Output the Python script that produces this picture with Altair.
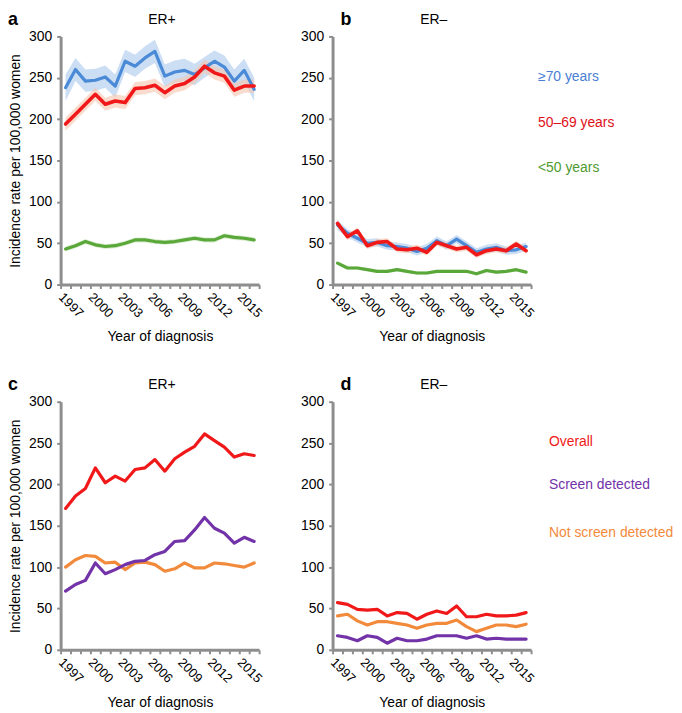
import altair as alt
import pandas as pd

YEARS = list(range(1997, 2017))
YEAR_LABELS = [1997, 2000, 2003, 2006, 2009, 2012, 2015]
Y_TICKS = [0, 50, 100, 150, 200, 250, 300]

# Panel a: ER+, by age
A_GE70 = [238, 260, 246, 247, 251, 240, 270, 264, 274, 282, 252, 257, 259, 254, 262, 270, 263, 246, 259, 236]
A_GE70_LO = [222, 246, 233, 234, 238, 226, 257, 251, 261, 268, 239, 244, 246, 241, 250, 258, 250, 232, 245, 222]
A_GE70_HI = [254, 274, 260, 261, 265, 254, 284, 278, 288, 296, 266, 271, 273, 267, 275, 283, 277, 260, 273, 250]
A_5069 = [194, 206, 218, 230, 218, 222, 220, 237, 238, 241, 232, 240, 243, 251, 264, 256, 252, 235, 240, 240]
A_5069_LO = [186, 198, 210, 222, 210, 214, 212, 229, 230, 233, 224, 232, 235, 243, 256, 248, 244, 227, 232, 232]
A_5069_HI = [202, 214, 226, 238, 226, 230, 228, 245, 246, 249, 240, 248, 251, 259, 272, 264, 260, 243, 248, 248]
A_LT50 = [43, 47, 52, 48, 46, 47, 50, 54, 54, 52, 51, 52, 54, 56, 54, 54, 59, 57, 56, 54]
A_LT50_LO = [40, 44, 49, 45, 43, 44, 47, 51, 51, 49, 48, 49, 51, 53, 51, 51, 56, 54, 53, 51]
A_LT50_HI = [46, 50, 55, 51, 49, 50, 53, 57, 57, 55, 54, 55, 57, 59, 57, 57, 62, 60, 59, 57]

# Panel b: ER-, by age
B_GE70 = [72, 62, 56, 50, 51, 47, 46, 44, 40, 44, 53, 47, 55, 47, 39, 43, 45, 41, 42, 46]
B_GE70_LO = [66, 57, 51, 45, 46, 42, 41, 39, 35, 39, 48, 42, 50, 42, 34, 38, 40, 36, 37, 41]
B_GE70_HI = [78, 67, 61, 55, 56, 52, 51, 49, 45, 49, 58, 52, 60, 52, 44, 48, 50, 46, 47, 51]
B_5069 = [74, 58, 65, 47, 51, 52, 43, 42, 44, 39, 51, 47, 43, 45, 36, 41, 43, 41, 49, 41]
B_5069_LO = [70, 54, 61, 43, 47, 48, 39, 38, 40, 35, 47, 43, 39, 41, 32, 37, 39, 37, 45, 37]
B_5069_HI = [78, 62, 69, 51, 55, 56, 47, 46, 48, 43, 55, 51, 47, 49, 40, 45, 47, 45, 53, 45]
B_LT50 = [26, 20, 20, 18, 16, 16, 18, 16, 14, 14, 16, 16, 16, 16, 13, 17, 15, 16, 18, 15]
B_LT50_LO = [24, 18, 18, 16, 14, 14, 16, 14, 12, 12, 14, 14, 14, 14, 11, 15, 13, 14, 16, 13]
B_LT50_HI = [28, 22, 22, 20, 18, 18, 20, 18, 16, 16, 18, 18, 18, 18, 15, 19, 17, 18, 20, 17]

# Panel c: ER+, by detection mode
C_OVERALL = [171, 186, 195, 220, 202, 210, 204, 218, 220, 230, 216, 231, 239, 246, 261, 253, 245, 233, 237, 235]
C_SCREEN = [71, 79, 84, 105, 92, 97, 103, 107, 108, 115, 119, 131, 132, 145, 160, 147, 141, 129, 136, 131]
C_NOTSCREEN = [100, 109, 114, 113, 105, 106, 97, 105, 106, 103, 95, 98, 105, 99, 99, 105, 104, 102, 100, 105]

# Panel d: ER-, by detection mode
D_OVERALL = [57, 55, 49, 48, 49, 41, 45, 44, 37, 43, 47, 44, 53, 40, 40, 43, 41, 41, 42, 45]
D_SCREEN = [17, 15, 11, 17, 15, 8, 14, 11, 11, 13, 17, 17, 17, 14, 17, 13, 14, 13, 13, 13]
D_NOTSCREEN = [41, 43, 35, 30, 34, 34, 32, 30, 26, 30, 32, 32, 36, 28, 22, 26, 30, 30, 28, 31]

AGE_LABELS = ["≥70 years", "50–69 years", "<50 years"]
MODE_LABELS = ["Overall", "Screen detected", "Not screen detected"]

BLUE, RED, GREEN = "#4a8ad6", "#f01818", "#5aa83a"
BLUE_BAND, RED_BAND, GREEN_BAND = "#a9c8ec", "#f6c4ae", "#c5e3b5"
PURPLE, ORANGE = "#7232a8", "#f28a3c"
TXT_BLUE, TXT_RED, TXT_GREEN = "#4a7fd4", "#e0101a", "#4f9a30"

W, H = 200, 250
FONT = "Liberation Sans"

tick_vals = [y - 0.5 for y in YEARS] + [YEARS[-1] + 0.5]
label_expr = ("indexof([" + ",".join(str(v) for v in YEAR_LABELS) +
              "], datum.value + 0.5) >= 0 ? toString(datum.value + 0.5) : ''")


def x_enc():
    return alt.X(
        "year:Q",
        scale=alt.Scale(domain=[YEARS[0] - 0.5, YEARS[-1] + 0.5], nice=False, zero=False),
        axis=alt.Axis(values=tick_vals, labelExpr=label_expr, labelAngle=45,
                      labelAlign="left", labelBaseline="top", labelOffset=4,
                      labelOverlap=False, labelFlush=False, labelBound=False,
                      labelPadding=2, title="Year of diagnosis", titlePadding=10),
    )


def y_enc(field, show_title):
    return alt.Y(
        field,
        scale=alt.Scale(domain=[0, 300], nice=False),
        axis=alt.Axis(values=Y_TICKS, labelPadding=5,
                      title="Incidence rate per 100,000 women" if show_title else None,
                      titlePadding=6),
    )


def series(values, color, show_title, lo=None, hi=None, band=None, width=3.2):
    df = pd.DataFrame({"year": YEARS, "v": values})
    out_band = None
    if lo is not None:
        df["lo"] = lo
        df["hi"] = hi
        out_band = alt.Chart(df).mark_area(color=band, opacity=0.6).encode(
            x=x_enc(), y=y_enc("lo:Q", show_title), y2="hi:Q")
    line = alt.Chart(df).mark_line(color=color, strokeWidth=width, strokeCap="round",
                                   strokeJoin="round").encode(
        x=x_enc(), y=y_enc("v:Q", show_title))
    return out_band, line


def text(t, x, y, color="black", size=14, weight="normal", align="left", baseline="middle"):
    return alt.Chart(pd.DataFrame({"t": [t]})).mark_text(
        font=FONT, fontSize=size, fontWeight=weight, color=color, align=align,
        baseline=baseline).encode(text="t:N", x=alt.value(x), y=alt.value(y))


def panel(specs, title, letter, letter_x, show_title, legend=None, legend_x=0, legend_y=None):
    bands, lines = [], []
    for s in specs:
        b, l = series(show_title=show_title, **s)
        if b is not None:
            bands.append(b)
        lines.append(l)
    layers = bands + lines
    layers.append(text(title, W / 2 + 2, -17, align="center"))
    layers.append(text(letter, letter_x, -26, size=18, weight="bold", baseline="top"))
    if legend:
        for (lab, col), yy in zip(legend, legend_y):
            layers.append(text(lab, legend_x, yy, color=col))
    return alt.layer(*layers).properties(width=W, height=H)


pa = panel([
    dict(values=A_GE70, color=BLUE, lo=A_GE70_LO, hi=A_GE70_HI, band=BLUE_BAND),
    dict(values=A_5069, color=RED, lo=A_5069_LO, hi=A_5069_HI, band=RED_BAND, width=3.6),
    dict(values=A_LT50, color=GREEN, lo=A_LT50_LO, hi=A_LT50_HI, band=GREEN_BAND),
], "ER+", "a", -53, True)

pb = panel([
    dict(values=B_GE70, color=BLUE, lo=B_GE70_LO, hi=B_GE70_HI, band=BLUE_BAND),
    dict(values=B_5069, color=RED, lo=B_5069_LO, hi=B_5069_HI, band=RED_BAND, width=3.6),
    dict(values=B_LT50, color=GREEN, lo=B_LT50_LO, hi=B_LT50_HI, band=GREEN_BAND),
], "ER–", "b", 8, False,
    legend=list(zip(AGE_LABELS, [TXT_BLUE, TXT_RED, TXT_GREEN])), legend_x=207,
    legend_y=[41, 87, 133])

pc = panel([
    dict(values=C_NOTSCREEN, color=ORANGE),
    dict(values=C_SCREEN, color=PURPLE),
    dict(values=C_OVERALL, color=RED),
], "ER+", "c", -53, True)

pd_ = panel([
    dict(values=D_NOTSCREEN, color=ORANGE),
    dict(values=D_SCREEN, color=PURPLE),
    dict(values=D_OVERALL, color=RED),
], "ER–", "d", 8, False,
    legend=list(zip(MODE_LABELS, ["#f01818", PURPLE, ORANGE])), legend_x=218,
    legend_y=[41, 84, 132])

chart = alt.concat(pa, pb, pc, pd_, columns=2, spacing={"row": 118, "column": 74},
                   bounds="flush").properties(
    padding={"left": 0, "top": 0, "right": 0, "bottom": 0}
).configure_view(stroke=None).configure_axis(
    grid=False, domainColor="#8e8e8e", domainWidth=3, tickColor="#8e8e8e", tickWidth=2,
    tickSize=4, labelFont=FONT, labelFontSize=14, labelColor="black",
    titleFont=FONT, titleFontSize=14, titleFontWeight="normal", titleColor="black",
).configure_axisX(labelFontSize=13)

chart.save("out.html", embed_options={"renderer": "svg", "actions": False})
